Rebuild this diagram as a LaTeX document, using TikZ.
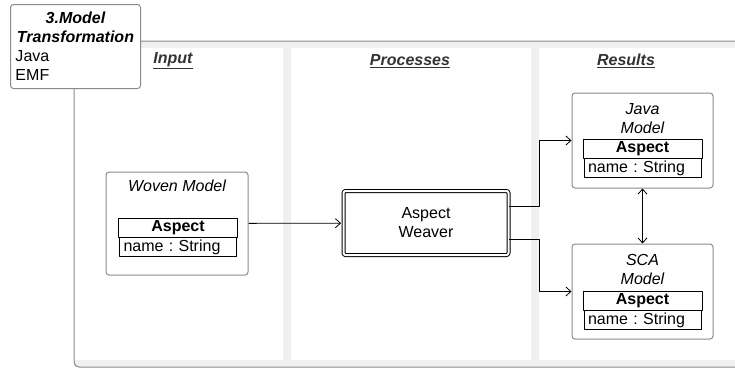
\documentclass[tikz,border=0pt]{standalone}
\usepackage{fontspec}
\setmainfont{Liberation Sans}
\usetikzlibrary{positioning,arrows.meta}
\definecolor{framegray}{HTML}{8A8A8A}
\definecolor{bandgray}{HTML}{F0F0F0}
\definecolor{headgray}{HTML}{333333}
\frenchspacing
\begin{document}
\begin{tikzpicture}[x=1pt, y=-1pt, font=\fontsize{16}{19}\selectfont, line join=round,
    >={Straight Barb[length=5pt,width=9pt]},
    box/.style={draw=framegray, line width=1pt, rounded corners=3pt, fill=white},
    clshead/.style={draw, line width=0.8pt, text width=109pt, inner xsep=5pt, inner ysep=0pt,
      minimum height=19pt, outer sep=0pt, align=center, font=\fontsize{16}{19}\selectfont\bfseries},
    clsattr/.style={draw, line width=0.8pt, text width=109pt, inner xsep=4pt, inner ysep=0pt,
      minimum height=19pt, outer sep=0pt, align=left},
    lanehead/.style={font=\fontsize{16}{19}\selectfont\bfseries\itshape, text=headgray},
    conn/.style={->, line width=0.8pt}]
    \def\xmax{735} \def\ymax{368}
    \useasboundingbox (0,0) rectangle (\xmax,\ymax);
    \clip (0,0) rectangle (\xmax,\ymax);
    % lanes
    \fill[bandgray] (74,41) rectangle (745,48);
    \fill[bandgray] (74,360) rectangle (745,367);
    \fill[bandgray] (283,41) rectangle (291,367);
    \fill[bandgray] (531,41) rectangle (539,367);
    \draw[framegray, line width=1pt, rounded corners=5pt] (745,41) -- (74,41) -- (74,367) -- (745,367);
    \node[box, anchor=north west, minimum width=130, minimum height=84, text width=120, inner xsep=5,
      align=left] (title) at (10,4)
      {\makebox[120pt]{\bfseries\itshape 3.Model}\\\makebox[120pt]{\bfseries\itshape Transformation}\\Java\\EMF};
    \node[lanehead] (input) at (173,61) {\underline{Input}};
    \node[lanehead] (processes) at (410,61) {\underline{Processes}};
    \node[lanehead] (results) at (626,61) {\underline{Results}};
    % input
    \node[box, minimum width=142, minimum height=103] (woven) at (177,223.5) {};
    \node[font=\fontsize{16}{19}\selectfont\itshape] (wovenlbl) at (177,186) {Woven Model};
    \node[clshead] (wovenhead) at (178,228) {Aspect};
    \node[clsattr, below=0pt of wovenhead] (wovenattr) {name : String};
    % processes
    \node[draw, double, double distance=2pt, line width=1pt, rounded corners=2pt, minimum width=165,
      minimum height=64, align=center] (weaver) at (426,223) {Aspect\\Weaver};
    % results
    \node[box, minimum width=141, minimum height=95] (java) at (642.5,140.5) {};
    \node[font=\fontsize{16}{19}\selectfont\itshape, align=center] (javalbl) at (642.5,118.5) {Java\\Model};
    \node[clshead] (javahead) at (642.5,149) {Aspect};
    \node[clsattr, below=0pt of javahead] (javaattr) {name : String};
    \node[box, minimum width=141, minimum height=95] (sca) at (642.5,291.5) {};
    \node[font=\fontsize{16}{19}\selectfont\itshape, align=center] (scalbl) at (642.5,269.5) {SCA\\Model};
    \node[clshead] (scahead) at (642.5,301) {Aspect};
    \node[clsattr, below=0pt of scahead] (scaattr) {name : String};
    % connectors
    \draw[conn, shorten >=2pt] (woven) -- (weaver);
    \draw[conn] ([yshift=17pt]weaver.east) -- ++(30,0) |- (java.west);
    \draw[conn] ([yshift=-16pt]weaver.east) -- ++(30,0) |- (sca.west);
    \draw[<->, line width=0.8pt] (java) -- (sca);
\end{tikzpicture}
\end{document}
